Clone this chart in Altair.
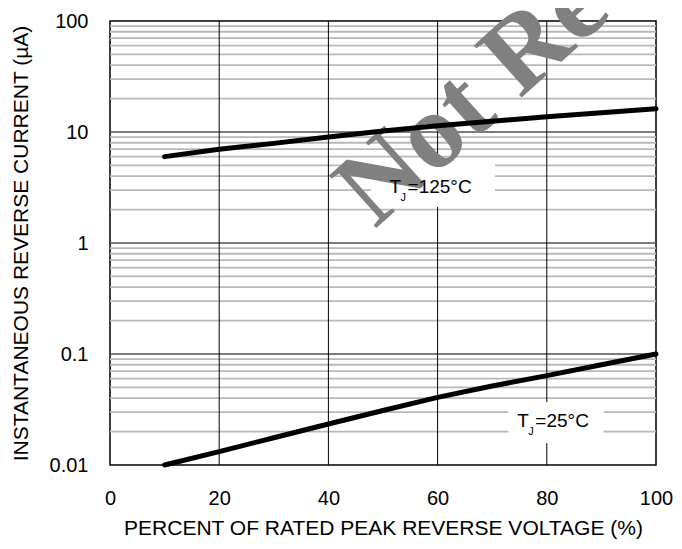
import altair as alt
import pandas as pd

# ---- data ----
pct = [10, 20, 30, 40, 50, 60, 70, 80, 90, 100]
ir_125 = [6.0, 7.0, 7.9, 9.0, 10.2, 11.4, 12.5, 13.7, 14.9, 16.2]
ir_25 = [0.0100, 0.0132, 0.0176, 0.0234, 0.0310, 0.0407, 0.0515, 0.0638, 0.0800, 0.100]

x_ticks = [0, 20, 40, 60, 80, 100]
y_ticks = [0.01, 0.1, 1, 10, 100]
x_grid = [20, 40, 60, 80]
y_major_grid = [0.1, 1, 10]
y_minor_grid = [0.02, 0.03, 0.04, 0.05, 0.06, 0.07, 0.08, 0.09,
                0.2, 0.3, 0.4, 0.5, 0.6, 0.7, 0.8, 0.9,
                2, 3, 4, 5, 6, 7, 8, 9,
                20, 30, 40, 50, 60, 70, 80, 90]

label_x = [51.2, 74.6]
label_y = [2.80, 0.0221]
label_main = ["T", "T"]
label_sub = ["J", "J"]
label_rest = ["=125°C", "=25°C"]
box_x = [47.8, 73.0]
box_x2 = [70.5, 90.4]
box_y = [5.26, 0.0370]
box_y2 = [2.11, 0.0158]

watermark_text = ["Not Recommended"]
watermark_x = [48.5]
watermark_y = [1.32]

FONT = "Liberation Sans"

xs = alt.Scale(domain=[0, 100], nice=False, zero=False)
ys = alt.Scale(type="log", domain=[0.01, 100], nice=False)

x_axis = alt.Axis(values=x_ticks, grid=False, ticks=False, tickSize=0, domain=False,
                  labelFont=FONT, labelFontSize=20, labelColor="black", labelPadding=23,
                  labelFlush=False, labelOverlap=False,
                  title="PERCENT OF RATED PEAK REVERSE VOLTAGE (%)",
                  titleFont=FONT, titleFontSize=21, titleFontWeight="normal",
                  titleColor="black", titlePadding=9)
y_axis = alt.Axis(values=y_ticks, format="~g", grid=False, ticks=False, tickSize=0,
                  domain=False, labelFont=FONT, labelFontSize=20, labelColor="black",
                  labelPadding=22, labelFlush=False, labelOverlap=False,
                  title="INSTANTANEOUS REVERSE CURRENT (µA)",
                  titleFont=FONT, titleFontSize=21, titleFontWeight="normal",
                  titleColor="black", titlePadding=18)

X = lambda f="x": alt.X(f"{f}:Q", scale=xs, axis=x_axis)
Y = lambda f="y": alt.Y(f"{f}:Q", scale=ys, axis=y_axis)

minor = alt.Chart(pd.DataFrame({"y": y_minor_grid})).mark_rule(
    color="#b8b8b8", strokeWidth=1.8).encode(y=Y())
major = alt.Chart(pd.DataFrame({"y": y_major_grid})).mark_rule(
    color="#505050", strokeWidth=1.3).encode(y=Y())
vert = alt.Chart(pd.DataFrame({"x": x_grid})).mark_rule(
    color="black", strokeWidth=1).encode(x=X())

boxes = alt.Chart(pd.DataFrame({"x": box_x, "x2": box_x2, "y": box_y, "y2": box_y2})).mark_rect(
    color="white").encode(x=X(), x2="x2:Q", y=Y(), y2="y2:Q")

wm = alt.Chart(pd.DataFrame({"x": watermark_x, "y": watermark_y, "t": watermark_text})).mark_text(
    font="Liberation Serif", fontWeight="bold", fontSize=108, color="#808080",
    angle=318, align="left", baseline="alphabetic").encode(x=X(), y=Y(), text="t:N")

lines_df = pd.DataFrame({
    "x": pct + pct,
    "y": ir_125 + ir_25,
    "series": ["125"] * len(pct) + ["25"] * len(pct),
})
lines = alt.Chart(lines_df).mark_line(color="black", strokeWidth=5, strokeCap="round",
                                      strokeJoin="round").encode(
    x=X(), y=Y(), detail="series:N")

lab_df = pd.DataFrame({"x": label_x, "y": label_y, "m": label_main, "s": label_sub,
                       "r": label_rest})
t_main = alt.Chart(lab_df).mark_text(font=FONT, fontSize=19, color="black", align="left",
                                     baseline="alphabetic").encode(x=X(), y=Y(), text="m:N")
t_sub = alt.Chart(lab_df).mark_text(font=FONT, fontSize=11, color="black", align="left",
                                    baseline="alphabetic", dx=11, dy=8).encode(
    x=X(), y=Y(), text="s:N")
t_rest = alt.Chart(lab_df).mark_text(font=FONT, fontSize=19, color="black", align="left",
                                     baseline="alphabetic", dx=18).encode(
    x=X(), y=Y(), text="r:N")

chart = alt.layer(minor, major, vert, boxes, wm, lines, t_main, t_sub, t_rest).properties(
    width=546, height=444,
    padding={"left": 102, "top": 13, "right": 18, "bottom": 76},
    autosize=alt.AutoSizeParams(type="none"),
    background="white",
).configure_view(stroke="black", strokeWidth=1.5)

chart.save("out.html", embed_options={"renderer": "svg", "actions": False})
